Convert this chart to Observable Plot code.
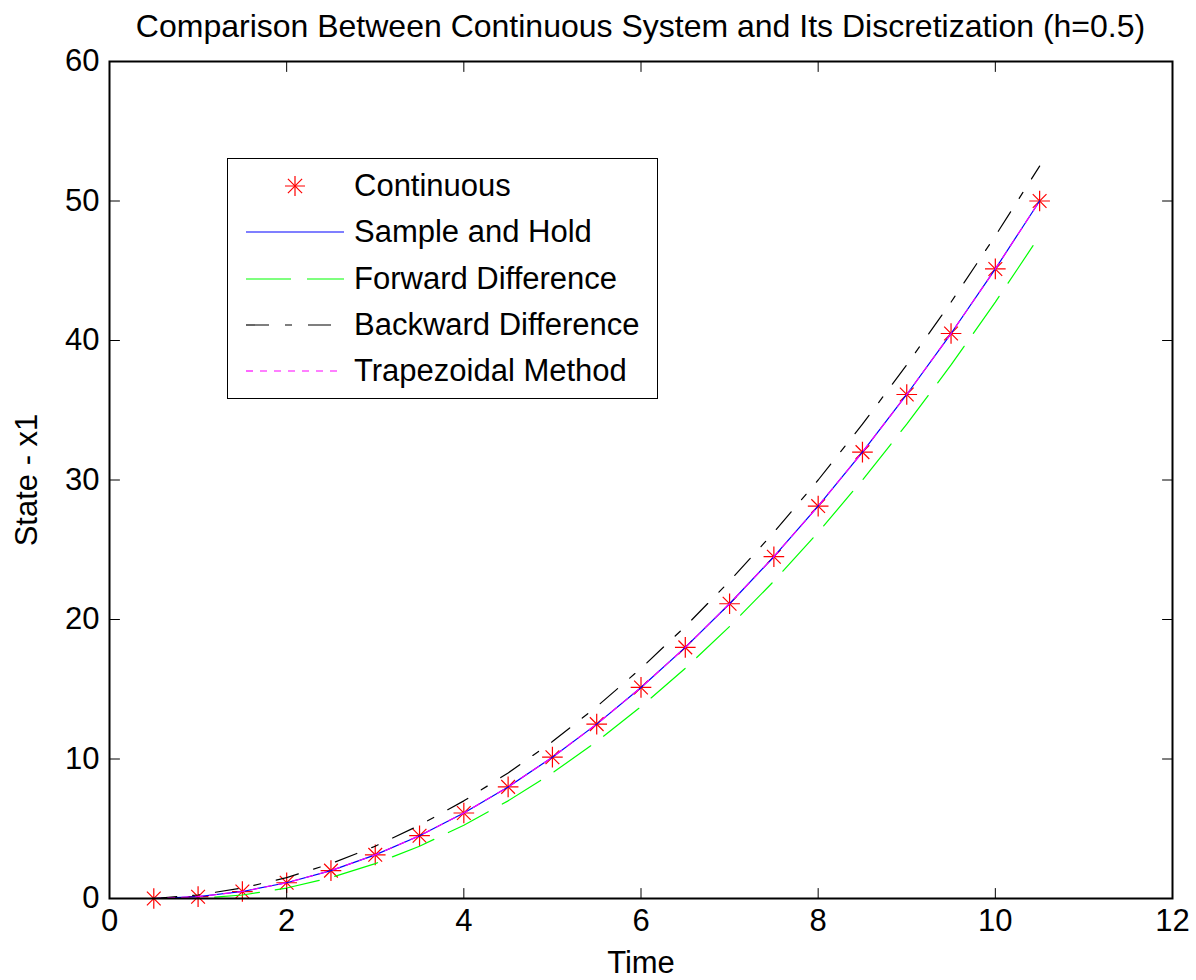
<!DOCTYPE html>
<html>
<head>
<meta charset="utf-8">
<script src="https://cdn.jsdelivr.net/npm/d3@7"></script>
<script src="https://cdn.jsdelivr.net/npm/@observablehq/plot@0.6"></script>
<style>
  body { margin: 0; background: white; font-family: "Liberation Sans", Arial, sans-serif; }
  #wrap { position: relative; width: 1196px; height: 980px; }
  #title { height: 44px; line-height: 52px; font-size: 32px; padding-left: 109px; width: 1063px; text-align: center; white-space: nowrap; overflow: visible; }
  #legend { position: absolute; left: 227px; top: 158px; width: 431px; height: 241px; box-sizing: border-box; border: 1.5px solid black; background: white; }
  .row { position: absolute; left: 0; height: 40px; }
  .row svg { position: absolute; left: 18px; top: 0; }
  .row span { position: absolute; left: 126px; top: 0; line-height: 40px; font-size: 31px; white-space: nowrap; }
</style>
</head>
<body>
<div id="wrap">
  <div id="title">Comparison Between Continuous System and Its Discretization (h=0.5)</div>
  <div id="chart"></div>
  <div id="legend"></div>
</div>
<script>
// ---- data ----
const time = [0.5, 1, 1.5, 2, 2.5, 3, 3.5, 4, 4.5, 5, 5.5, 6, 6.5, 7, 7.5, 8, 8.5, 9, 9.5, 10, 10.5];
const continuous = [0, 0.13, 0.5, 1.13, 2, 3.13, 4.5, 6.13, 8, 10.13, 12.5, 15.13, 18, 21.13, 24.5, 28.13, 32, 36.13, 40.5, 45.13, 50];
const sampleHold = [0, 0.13, 0.5, 1.13, 2, 3.13, 4.5, 6.13, 8, 10.13, 12.5, 15.13, 18, 21.13, 24.5, 28.13, 32, 36.13, 40.5, 45.13, 50];
const forwardDiff = [0, 0, 0.25, 0.75, 1.5, 2.5, 3.75, 5.25, 7, 9, 11.25, 13.75, 16.5, 19.5, 22.75, 26.25, 30, 34, 38.25, 42.75, 47.5];
const backwardDiff = [0, 0.25, 0.75, 1.5, 2.5, 3.75, 5.25, 7, 9, 11.25, 13.75, 16.5, 19.5, 22.75, 26.25, 30, 34, 38.25, 42.75, 47.5, 52.5];
const trapezoidal = [0, 0.13, 0.5, 1.13, 2, 3.13, 4.5, 6.13, 8, 10.13, 12.5, 15.13, 18, 21.13, 24.5, 28.13, 32, 36.13, 40.5, 45.13, 50];

const xTicks = [0, 2, 4, 6, 8, 10, 12];
const yTicks = [0, 10, 20, 30, 40, 50, 60];
const seriesNames = ["Continuous", "Sample and Hold", "Forward Difference", "Backward Difference", "Trapezoidal Method"];

const rows = time.map((t, i) => ({t, c: continuous[i], s: sampleHold[i], f: forwardDiff[i], b: backwardDiff[i], tr: trapezoidal[i]}));

const tickShape = {draw(context, l) { context.moveTo(0, 0); context.lineTo(0, -l); }};
const TL = 10;

const chart = Plot.plot({
  width: 1196,
  height: 936,
  marginLeft: 109,
  marginRight: 24,
  marginTop: 17,
  marginBottom: 82,
  style: {fontFamily: "'Liberation Sans', Arial, sans-serif", fontSize: "31px", background: "white", overflow: "visible"},
  x: {domain: [0, 12]},
  y: {domain: [0, 60]},
  marks: [
    // continuous markers (MATLAB '*': plus + times)
    Plot.dot(rows, {x: "t", y: "c", symbol: "plus", r: 6.7, stroke: "#ff0000", strokeWidth: 1.2}),
    Plot.dot(rows, {x: "t", y: "c", symbol: "times", r: 6.3, stroke: "#ff0000", strokeWidth: 1.2}),
    Plot.line(rows, {x: "t", y: "s", stroke: "#0000ff", strokeWidth: 1.2}),
    Plot.line(rows, {x: "t", y: "f", stroke: "#00ff00", strokeWidth: 1.2, strokeDasharray: "45,16"}),
    Plot.line(rows, {x: "t", y: "b", stroke: "#000000", strokeWidth: 1.2, strokeDasharray: "23,16,7,16"}),
    Plot.line(rows, {x: "t", y: "tr", stroke: "#ff00ff", strokeWidth: 1.2, strokeDasharray: "7,7"}),
    // inward ticks on all four sides
    Plot.vector(xTicks, {x: d => d, frameAnchor: "bottom", length: TL, rotate: 0, anchor: "start", shape: tickShape, stroke: "black", strokeWidth: 1}),
    Plot.vector(xTicks, {x: d => d, frameAnchor: "top", length: TL, rotate: 180, anchor: "start", shape: tickShape, stroke: "black", strokeWidth: 1}),
    Plot.vector(yTicks, {y: d => d, frameAnchor: "left", length: TL, rotate: 90, anchor: "start", shape: tickShape, stroke: "black", strokeWidth: 1}),
    Plot.vector(yTicks, {y: d => d, frameAnchor: "right", length: TL, rotate: -90, anchor: "start", shape: tickShape, stroke: "black", strokeWidth: 1}),
    Plot.frame({stroke: "black", strokeWidth: 2}),
    Plot.axisX({ticks: xTicks, tickSize: 0, tickPadding: 10, label: null, fill: "black"}),
    Plot.axisY({ticks: yTicks, tickSize: 0, tickPadding: 10, label: null, fill: "black"}),
    Plot.text(["Time"], {frameAnchor: "bottom", dy: 65, textAnchor: "middle", lineAnchor: "middle", text: d => d, fontSize: 31, fill: "black"}),
    Plot.text(["State - x1"], {frameAnchor: "left", dx: -82, rotate: -90, textAnchor: "middle", lineAnchor: "middle", text: d => d, fontSize: 31, fill: "black"})
  ]
});
document.getElementById("chart").appendChild(chart);

// ---- legend ----
const legend = d3.select("#legend");
const styles = [
  {type: "star"},
  {stroke: "#0000ff", dash: null},
  {stroke: "#00ff00", dash: "45,16"},
  {stroke: "#000000", dash: "23,16,7,16"},
  {stroke: "#ff00ff", dash: "7,7"}
];
seriesNames.forEach((name, i) => {
  const row = legend.append("div").attr("class", "row").style("top", (7 + i * 46.25) + "px").style("width", "420px");
  const svg = row.append("svg").attr("width", 98).attr("height", 40);
  const st = styles[i];
  if (st.type === "star") {
    const g = svg.append("g").attr("transform", "translate(49,20)").attr("stroke", "#ff0000").attr("stroke-width", 1.2);
    g.append("path").attr("d", d3.symbol(d3.symbolPlus, Math.PI * 6.5 * 6.5)());
    g.append("path").attr("d", d3.symbol(d3.symbolTimes, Math.PI * 6.5 * 6.5)());
  } else {
    svg.append("line").attr("x1", 0).attr("x2", 98).attr("y1", 20).attr("y2", 20)
      .attr("stroke", st.stroke).attr("stroke-width", 1.2).attr("stroke-dasharray", st.dash);
  }
  row.append("span").text(name);
});
</script>
</body>
</html>
